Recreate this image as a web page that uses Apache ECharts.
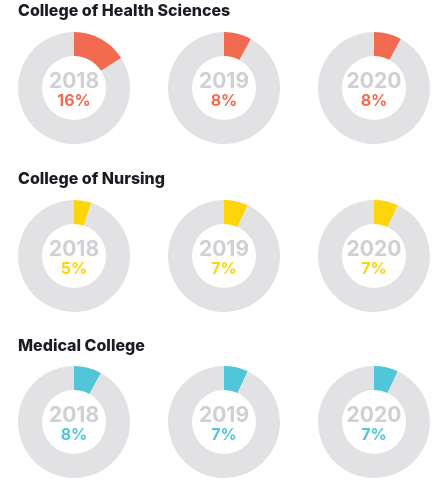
<!DOCTYPE html>
<html><head><meta charset="utf-8">
<script src="https://cdn.jsdelivr.net/npm/echarts@6/dist/echarts.min.js"></script>
<style>html,body{margin:0;padding:0;background:#fff}#c{width:440px;height:480px}</style>
</head><body><div id="c"></div>
<script>
const colleges = ["College of Health Sciences", "College of Nursing", "Medical College"];
const years = ["2018", "2019", "2020"];
const healthSciences = [16, 8, 8];
const nursing = [5, 7, 7];
const medical = [8, 7, 7];
const collegeValues = [healthSciences, nursing, medical];
const collegeColors = ["#f26b50", "#fdd50a", "#4fc6d9"];

const colX = [74, 224, 374];
const rowY = [88, 256, 422];
const titleY = [3, 171, 338];
const FONT = "Inter";

const series = [];
const titles = [];
colleges.forEach((name, r) => {
  titles.push({
    text: name, left: 18, top: titleY[r], padding: 0,
    textStyle: { fontFamily: FONT, fontWeight: 800, fontSize: 16, color: "#1b1b24" }
  });
  years.forEach((yr, c) => {
    const v = collegeValues[r][c];
    series.push({
      type: "pie",
      center: [colX[c], rowY[r]],
      radius: [32, 56],
      startAngle: 90,
      clockwise: true,
      silent: true,
      animation: false,
      labelLine: { show: false },
      data: [
        {
          value: v, name: yr,
          itemStyle: { color: collegeColors[r] },
          label: {
            show: true, position: "center",
            padding: [6, 0, 0, 0],
            formatter: "{y|" + yr + "}\n{p|" + v + "%}",
            rich: {
              y: { fontFamily: FONT, fontWeight: 700, fontSize: 21, color: "#d0d0d4", lineHeight: 20 },
              p: { fontFamily: FONT, fontWeight: 700, fontSize: 16, color: collegeColors[r], lineHeight: 19 }
            }
          }
        },
        {
          value: 100 - v, name: "rest",
          itemStyle: { color: "#e2e2e4" },
          label: { show: false }
        }
      ]
    });
  });
});

const chart = echarts.init(document.getElementById("c"), null, { renderer: "canvas" });
chart.setOption({ animation: false, title: titles, series: series });
</script></body></html>
